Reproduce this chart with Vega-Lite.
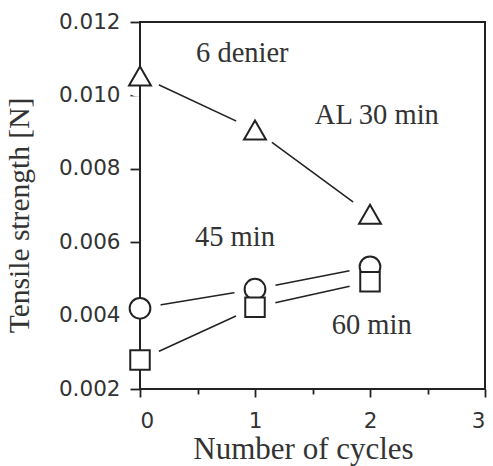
{
  "$schema": "https://vega.github.io/schema/vega-lite/v6.json",
  "width": 345,
  "height": 367,
  "autosize": {"type": "none"},
  "padding": {"left": 140, "top": 22, "right": 8, "bottom": 77},
  "background": "white",
  "config": {
    "view": {"stroke": "#222", "strokeWidth": 2},
    "axis": {
      "domain": false,
      "grid": false,
      "tickColor": "#222",
      "tickWidth": 1.8,
      "labelColor": "#333",
      "labelFont": "DejaVu Sans",
      "labelFontSize": 21.5,
      "titleFont": "Liberation Serif",
      "titleColor": "#333",
      "titleFontWeight": "normal"
    }
  },
  "datasets": {
    "pts": [
      {"series": "30 min", "cycles": 0, "strength": 0.01053},
      {"series": "30 min", "cycles": 1, "strength": 0.00906},
      {"series": "30 min", "cycles": 2, "strength": 0.00676},
      {"series": "45 min", "cycles": 0, "strength": 0.0042},
      {"series": "45 min", "cycles": 1, "strength": 0.00472},
      {"series": "45 min", "cycles": 2, "strength": 0.00533},
      {"series": "60 min", "cycles": 0, "strength": 0.00279},
      {"series": "60 min", "cycles": 1, "strength": 0.00423},
      {"series": "60 min", "cycles": 2, "strength": 0.00492}
    ],
    "notes": [
      {"label": "6 denier", "cycles": 0.487, "strength": 0.01091},
      {"label": "AL 30 min", "cycles": 1.52, "strength": 0.00923},
      {"label": "45 min", "cycles": 0.478, "strength": 0.00591},
      {"label": "60 min", "cycles": 1.667, "strength": 0.0035}
    ]
  },
  "layer": [
    {
      "data": {"name": "pts"},
      "mark": {"type": "line", "stroke": "#222", "strokeWidth": 1.6},
      "encoding": {
        "x": {
          "field": "cycles",
          "type": "quantitative",
          "scale": {"domain": [0, 3], "nice": false, "zero": false},
          "axis": {
            "values": [0, 0.5, 1, 1.5, 2, 2.5, 3],
            "labelExpr": "datum.value % 1 == 0 ? format(datum.value, 'd') : ''",
            "tickSize": {"condition": {"test": "datum.value % 1 == 0", "value": 8}, "value": 5},
            "labelPadding": 13,
            "title": "Number of cycles",
            "titleFontSize": 31,
            "titleX": 163,
            "titleY": 69,
            "titleAlign": "center",
            "titleBaseline": "alphabetic"
          }
        },
        "y": {
          "field": "strength",
          "type": "quantitative",
          "scale": {"domain": [0.002, 0.012], "nice": false, "zero": false},
          "axis": {
            "values": [0.002, 0.003, 0.004, 0.005, 0.006, 0.007, 0.008, 0.009, 0.01, 0.011, 0.012],
            "labelExpr": "round(datum.value * 1000) % 2 == 0 ? format(datum.value, '.3f') : ''",
            "tickSize": {"condition": {"test": "round(datum.value * 1000) % 2 == 0", "value": 10}, "value": 6},
            "labelPadding": 10,
            "title": "Tensile strength [N]",
            "titleFontSize": 29.5,
            "titleAngle": -90,
            "titleX": -112,
            "titleY": 193,
            "titleAlign": "center",
            "titleBaseline": "alphabetic"
          }
        },
        "detail": {"field": "series", "type": "nominal"}
      }
    },
    {
      "data": {"name": "pts"},
      "mark": {"type": "point", "shape": "circle", "filled": true, "fill": "white", "strokeWidth": 0, "opacity": 1, "size": 1750},
      "encoding": {
        "x": {"field": "cycles", "type": "quantitative"},
        "y": {"field": "strength", "type": "quantitative"}
      }
    },
    {
      "data": {"values": [{}]},
      "mark": {"type": "rule", "color": "#222", "strokeWidth": 2},
      "encoding": {"x": {"datum": 0, "type": "quantitative"}}
    },
    {
      "data": {"name": "pts"},
      "mark": {"type": "point", "filled": true, "fill": "white", "stroke": "#222", "strokeWidth": 2, "opacity": 1},
      "encoding": {
        "x": {"field": "cycles", "type": "quantitative"},
        "y": {"field": "strength", "type": "quantitative"},
        "shape": {
          "field": "series",
          "type": "nominal",
          "scale": {"domain": ["30 min", "45 min", "60 min"], "range": ["triangle-up", "circle", "square"]},
          "legend": null
        },
        "size": {
          "field": "series",
          "type": "ordinal",
          "scale": {"domain": ["30 min", "45 min", "60 min"], "range": [480, 380, 380]},
          "legend": null
        }
      }
    },
    {
      "data": {"name": "notes"},
      "mark": {"type": "text", "align": "left", "baseline": "alphabetic", "font": "Liberation Serif", "fontSize": 28.5, "color": "#333"},
      "encoding": {
        "x": {"field": "cycles", "type": "quantitative"},
        "y": {"field": "strength", "type": "quantitative"},
        "text": {"field": "label", "type": "nominal"}
      }
    }
  ]
}
